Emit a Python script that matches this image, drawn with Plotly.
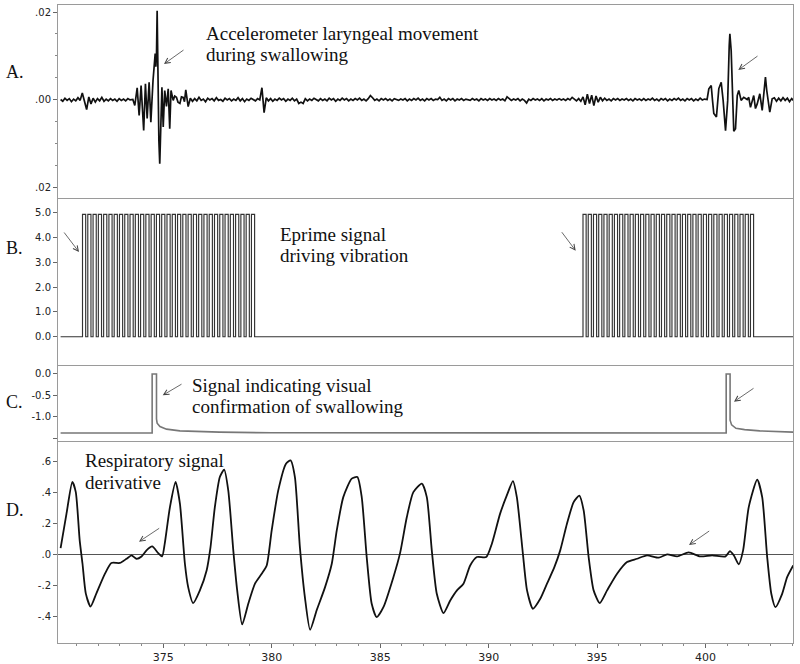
import plotly.graph_objects as go

# ---------------- DATA ----------------
# Panel A: accelerometer signal, values in units of 0.001
A_base1_start = 370.27
A_base1_dt = 0.1
A_base1_v = [0.0, -0.4, 0.3, -0.2, 0.2, -0.5, 0.1, -0.3, 0.4, -0.2,
             1.5, -0.5, -2.3, 0.6, -1.0, 0.3, -0.6, 0.2, -0.3, 0.5,
             -0.4, 0.1, -0.3, 0.2, -0.2, 0.1, -0.4, 0.2, -0.2, 0.1,
             -0.3, 0.2, -0.1]
A_burst1 = [(373.60, 0.0), (373.69, -1.37), (373.80, 2.67), (373.89, -3.66), (373.98, 3.2),
            (374.10, -7.09), (374.18, 3.59), (374.26, -4.34), (374.35, 3.95), (374.43, -5.19),
            (374.53, 4.34), (374.60, 9.0), (374.63, 10.5), (374.66, 7.5), (374.69, 10.0),
            (374.72, 20.3), (374.75, 4.3), (374.80, -9.4), (374.84, -14.7), (374.89, -7.1),
            (374.94, 2.8), (375.00, -6.3), (375.07, 2.06), (375.15, -1.6), (375.23, 2.45),
            (375.30, -6.7), (375.36, 2.06), (375.46, -0.2), (375.53, 0.8), (375.61, 0.5),
            (375.68, -0.6), (375.77, -0.9), (375.84, 0.6), (375.92, 0.46), (375.98, -0.5),
            (376.04, 2.2), (376.10, 0.3), (376.15, -1.6)]
A_base2_start = 376.25
A_base2_dt = 0.1
A_base2_v = [0.3, -0.4, 0.2, -0.3, 0.5, -0.2, 0.1, -0.5, 0.3, -0.1,
             0.2, -0.3, 0.4, -0.2, 0.0, -0.4, 0.3, -0.1, 0.2, -0.3,
             0.1, -0.2, 0.4, -0.3, 0.2, -0.5, 0.1, -0.2, 0.3, -0.1,
             -0.3, 0.2, -0.1, 2.7, -3.0, 0.4, -0.3, 0.2, -0.4, 0.1,
             -0.2, 0.3, -0.1, 0.2, -0.4, 0.1, -0.2, 0.3, -0.3, 0.1,
             -0.9, -0.6, -0.9, 0.2, -0.3, 0.1, -0.2, 0.3, -0.1, -0.3,
             0.2, -0.2, 0.1, -0.3, 0.3, -0.1, 0.2, -0.4, 0.1, -0.2,
             0.3, -0.1, 0.2, -0.3, 0.1, -0.2, 0.2, -0.1, 0.3, -0.2,
             0.1, -0.3, 0.2, 0.9, 0.4, -0.2, 0.1, -0.3, 0.2, -0.1,
             0.2, -0.2, 0.1, -0.3, 0.2, 0.0, -0.2, 0.1, -0.1, 0.2,
             -0.3, 0.1, -0.2, 0.2, -0.1, 0.3, -0.2, 0.1, -0.3, 0.2,
             -0.1, 0.2, -0.2, 0.1, 0.0, 0.5, -0.2, 0.1, -0.3, 0.2,
             -0.1, 0.2, -0.3, 0.1, -0.1, 0.2, -0.2, 0.1, 0.0, -0.2,
             0.2, -0.1, 0.1, -0.3, 0.2, -0.1, 0.1, -0.2, 0.2, -0.1,
             0.1, -0.2, 0.2, -0.1, 0.1, -0.3, 0.6, 0.2, -0.2, 0.1,
             -0.1, 0.2, -0.3, 0.1, -0.2, -0.8, 0.1, -0.2, 0.2, -0.1,
             0.1, -0.2, 0.2, -0.3, 0.1, -0.1, 0.2, -0.2, 0.1, -0.1,
             0.2, -0.1, 0.1, -0.2, 0.2, -0.1, 0.5, 0.1, -0.3, 0.2,
             -0.4, 0.6, -1.2, 1.2, -0.9, 1.0, -1.4, 0.8, -0.6, 0.5,
             -0.3, 0.3, -0.2, 0.1, -0.3, 0.2, -0.1, 0.2, -0.2, 0.1,
             -0.1, 0.2, -0.2, 0.1, -0.3, 0.2, -0.1, 0.1, -0.2, 0.2,
             -0.2, 0.1, -0.1, 0.3, -0.2, 0.1, -0.3, 0.2, -0.1, 0.2,
             -0.3, 0.1, -0.2, 0.2, -0.1, 0.3, -0.2, 0.1, -0.3, 0.2,
             -0.1, 0.2, -0.3, 0.1, -0.2, 0.3, -0.1, 0.1]
A_burst2 = [(400.07, 0.0), (400.15, 2.45), (400.26, 3.2), (400.32, -0.2), (400.38, -3.2),
            (400.50, -4.0), (400.61, 2.5), (400.72, 3.95), (400.81, -0.2), (400.92, -7.1),
            (401.02, -0.2), (401.09, 12.3), (401.12, 15.0), (401.18, 11.2), (401.25, -0.2),
            (401.30, -7.25), (401.38, -6.7), (401.46, 0.9), (401.53, 2.06), (401.64, -0.2),
            (401.76, 0.5), (401.92, 0.0), (401.99, 0.5), (402.07, -1.8), (402.22, 0.9),
            (402.30, -2.06), (402.38, -1.0), (402.50, 1.3), (402.61, -2.5), (402.68, 0.9),
            (402.76, 5.1), (402.82, 2.06), (402.87, -0.2), (402.96, -2.9), (403.07, 0.16),
            (403.17, 0.4), (403.27, -0.4), (403.37, 0.3), (403.47, -0.3), (403.57, 0.4),
            (403.67, -0.2), (403.77, 0.3), (403.87, -0.5), (403.97, 0.2), (404.07, -0.3),
            (404.15, 0.1)]

# Panel B: Eprime pulse bursts
B_burst_start = [371.28, 394.35]
B_burst_end = [379.31, 402.31]
B_pulse_count = [33, 33]
B_high = 4.93
B_duty = 0.6
B_span = [370.27, 404.05]

# Panel C: visual confirmation signal
C_pts = [(370.27, -1.38), (374.49, -1.38), (374.49, 0.0), (374.69, 0.0), (374.69, -1.05),
         (374.72, -1.15), (374.85, -1.23), (375.15, -1.29), (375.77, -1.33), (377.6, -1.36),
         (380.0, -1.375), (400.95, -1.38), (400.95, 0.0), (401.13, 0.0), (401.13, -1.08),
         (401.2, -1.19), (401.4, -1.27), (401.8, -1.30), (402.5, -1.33), (404.05, -1.36)]

# Panel D: respiratory signal derivative
D_pts = [(370.27, 0.04), (370.54, 0.26), (370.81, 0.465), (370.97, 0.40), (371.15, 0.09),
         (371.28, -0.06), (371.43, -0.25), (371.65, -0.335), (371.92, -0.25), (372.31, -0.125),
         (372.61, -0.055), (373.00, -0.055), (373.31, -0.028), (373.54, -0.006), (373.77, -0.028),
         (374.00, -0.013), (374.23, 0.026), (374.49, 0.051), (374.77, 0.008), (374.95, -0.013),
         (375.07, 0.069), (375.31, 0.304), (375.57, 0.465), (375.77, 0.326), (376.00, -0.06),
         (376.15, -0.21), (376.38, -0.313), (376.69, -0.231), (377.00, -0.103), (377.18, 0.047),
         (377.38, 0.304), (377.61, 0.497), (377.81, 0.545), (378.00, 0.41), (378.23, 0.026),
         (378.41, -0.231), (378.64, -0.45), (378.92, -0.317), (379.23, -0.188), (379.54, -0.124),
         (379.77, -0.071), (380.00, 0.154), (380.30, 0.41), (380.66, 0.583), (380.87, 0.604),
         (381.07, 0.497), (381.30, 0.047), (381.53, -0.274), (381.77, -0.484), (382.07, -0.36),
         (382.46, -0.21), (382.77, -0.06), (383.00, 0.154), (383.30, 0.368), (383.69, 0.487),
         (383.95, 0.497), (384.15, 0.368), (384.38, -0.017), (384.61, -0.317), (384.84, -0.403),
         (385.15, -0.339), (385.61, -0.146), (385.92, 0.01), (386.23, 0.24), (386.53, 0.40),
         (386.92, 0.455), (387.15, 0.368), (387.38, 0.026), (387.61, -0.253), (387.92, -0.377),
         (388.23, -0.296), (388.54, -0.231), (388.84, -0.188), (389.15, -0.071), (389.46, -0.017),
         (389.89, -0.017), (390.15, 0.069), (390.53, 0.262), (390.87, 0.39), (391.12, 0.471),
         (391.30, 0.368), (391.58, 0.004), (391.77, -0.231), (392.04, -0.349), (392.38, -0.285),
         (392.69, -0.188), (393.03, -0.082), (393.30, 0.026), (393.61, 0.197), (393.92, 0.336),
         (394.18, 0.377), (394.38, 0.283), (394.61, -0.017), (394.84, -0.231), (395.12, -0.313),
         (395.46, -0.231), (395.92, -0.124), (396.38, -0.049), (396.84, -0.028), (397.30, -0.006),
         (397.84, -0.021), (398.23, 0.0), (398.69, -0.013), (399.22, 0.013), (399.76, -0.013),
         (400.30, -0.006), (400.92, -0.013), (401.12, 0.021), (401.30, -0.006), (401.53, -0.064),
         (401.73, 0.026), (401.99, 0.304), (402.38, 0.48), (402.61, 0.368), (402.84, -0.017),
         (403.03, -0.253), (403.22, -0.339), (403.53, -0.253), (403.76, -0.146), (404.04, -0.071)]

# Axis ticks
X_range = [370.15, 404.03]
X_tickvals = [375, 380, 385, 390, 395, 400]
A_tickvals = [0.02, 0.0, -0.02]
A_ticktext = [".02", ".00", ".02"]
B_tickvals = [0, 1, 2, 3, 4, 5]
B_ticktext = ["0.0", "1.0", "2.0", "3.0", "4.0", "5.0"]
C_tickvals = [0.0, -0.5, -1.0, -1.5]
C_ticktext = ["0.0", "-0.5", "-1.0", ""]
D_tickvals = [0.6, 0.4, 0.2, 0.0, -0.2, -0.4]
D_ticktext = [".6", ".4", ".2", ".0", "-.2", "-.4"]

# ---------------- BUILD SERIES ----------------
A_t, A_v = [], []
for i, v in enumerate(A_base1_v):
    A_t.append(A_base1_start + i * A_base1_dt); A_v.append(v / 1000)
for t, v in A_burst1:
    A_t.append(t); A_v.append(v / 1000)
for i, v in enumerate(A_base2_v):
    A_t.append(A_base2_start + i * A_base2_dt); A_v.append(v / 1000)
for t, v in A_burst2:
    A_t.append(t); A_v.append(v / 1000)

B_t, B_v = [B_span[0]], [0.0]
for s, e, n in zip(B_burst_start, B_burst_end, B_pulse_count):
    period = (e - s) / n
    for k in range(n):
        t0 = s + k * period
        t1 = t0 + B_duty * period
        B_t += [t0, t0, t1, t1]
        B_v += [0.0, B_high, B_high, 0.0]
B_t.append(B_span[1]); B_v.append(0.0)

C_t = [p[0] for p in C_pts]; C_v = [p[1] for p in C_pts]
D_t = [p[0] for p in D_pts]; D_v = [p[1] for p in D_pts]

# ---------------- FIGURE ----------------
W, H = 800, 664
ML, MR, MT, MB = 58, 7, 5, 21
PW, PH = W - ML - MR, H - MT - MB


def px(x):
    return (x - ML) / PW


def py(y):
    return (H - MB - y) / PH


fig = go.Figure()
fig.add_trace(go.Scatter(x=A_t, y=A_v, mode="lines", line=dict(color="#111", width=1.7),
                         xaxis="x", yaxis="y", showlegend=False))
fig.add_trace(go.Scatter(x=B_t, y=B_v, mode="lines", line=dict(color="#333", width=1.15),
                         xaxis="x2", yaxis="y2", showlegend=False))
fig.add_trace(go.Scatter(x=C_t, y=C_v, mode="lines", line=dict(color="#777", width=1.6),
                         xaxis="x3", yaxis="y3", showlegend=False))
fig.add_trace(go.Scatter(x=D_t, y=D_v, mode="lines", line=dict(color="#111", width=1.8, shape="spline", smoothing=0.6),
                         xaxis="x4", yaxis="y4", showlegend=False))

frame = dict(showline=True, linecolor="#9a9a9a", linewidth=1, mirror=True, showgrid=False,
             zeroline=False, automargin=False)
tickfont = dict(family="DejaVu Sans", size=10, color="#222")

domains = {
    "A": [py(198), py(5)],
    "B": [py(365), py(199)],
    "C": [py(440.5), py(366)],
    "D": [0, py(441.7)],
}

xcommon = dict(range=X_range, domain=[0, 1], **frame)
fig.update_layout(
    width=W, height=H, margin=dict(l=ML, r=MR, t=MT, b=MB),
    paper_bgcolor="white", plot_bgcolor="white",
    xaxis=dict(anchor="y", showticklabels=False, ticks="", **xcommon),
    xaxis2=dict(anchor="y2", matches="x", showticklabels=False, ticks="", **xcommon),
    xaxis3=dict(anchor="y3", matches="x", showticklabels=False, ticks="", **xcommon),
    xaxis4=dict(anchor="y4", matches="x", tickvals=X_tickvals, ticks="outside", ticklen=4,
                tickcolor="#666", tickfont=dict(family="DejaVu Sans", size=11, color="#222"),
                minor=dict(dtick=1, ticks="outside", ticklen=2, tickcolor="#888"), **xcommon),
    yaxis=dict(anchor="x", domain=domains["A"], range=[-0.02251, 0.0216], tickvals=A_tickvals,
               ticktext=A_ticktext, ticks="outside", ticklen=4, tickcolor="#666", tickfont=tickfont,
               minor=dict(dtick=0.005, ticks="outside", ticklen=2, tickcolor="#888"), **frame),
    yaxis2=dict(anchor="x2", domain=domains["B"], range=[-1.14, 5.55], tickvals=B_tickvals,
                ticktext=B_ticktext, ticks="outside", ticklen=4, tickcolor="#666", tickfont=tickfont, **frame),
    yaxis3=dict(anchor="x3", domain=domains["C"], range=[-1.555, 0.186], tickvals=C_tickvals,
                ticktext=C_ticktext, ticks="outside", ticklen=4, tickcolor="#666", tickfont=tickfont, **frame),
    yaxis4=dict(anchor="x4", domain=domains["D"], range=[-0.569, 0.724], tickvals=D_tickvals,
                ticktext=D_ticktext, ticks="outside", ticklen=4, tickcolor="#666", tickfont=tickfont,
                showline=True, linecolor="#9a9a9a", linewidth=1, mirror=True, showgrid=False,
                automargin=False, zeroline=True, zerolinecolor="#555", zerolinewidth=1),
)

serif = dict(family="Liberation Serif", size=19, color="#111")
texts = [
    ("Accelerometer laryngeal movement", 204, 33),
    ("during swallowing", 204, 55),
    ("Eprime signal", 277.7, 234),
    ("driving vibration", 277.7, 255),
    ("Signal indicating visual", 190, 385),
    ("confirmation of swallowing", 190, 406),
    ("Respiratory signal", 83.3, 461),
    ("derivative", 83.3, 482),
]
for txt, x, y in texts:
    fig.add_annotation(text=txt, xref="paper", yref="paper", x=px(x), y=py(y),
                       xanchor="left", yanchor="middle", showarrow=False, font=serif)

labels = [("A.", 72.3), ("B.", 248.3), ("C.", 402.3), ("D.", 510)]
for txt, y in labels:
    fig.add_annotation(text=txt, xref="paper", yref="paper", x=px(4), y=py(y),
                       xanchor="left", yanchor="middle", showarrow=False,
                       font=dict(family="Liberation Serif", size=18, color="#111"))

arrows = [
    ((185, 49), (164, 64)),
    ((759, 55), (738.3, 70)),
    ((63, 231), (79, 252)),
    ((560.7, 230.7), (575.7, 250.7)),
    ((183, 383.3), (162.7, 395.3)),
    ((755, 387.3), (734, 401.7)),
    ((160.7, 527.3), (139, 541.7)),
    ((710.7, 530), (689, 545)),
]
for (tx, ty), (hx, hy) in arrows:
    fig.add_annotation(text="", xref="paper", yref="paper", x=px(hx), y=py(hy),
                       ax=tx - hx, ay=ty - hy, showarrow=True, arrowhead=5,
                       arrowsize=1.3, arrowwidth=0.8, arrowcolor="#444")

fig.write_html("out.html", config={"displayModeBar": False},
               post_script="document.body.style.margin='0px';")
